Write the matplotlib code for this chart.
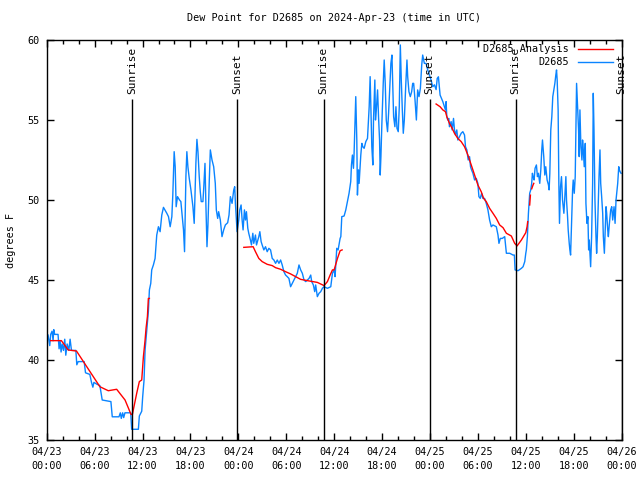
import matplotlib
matplotlib.use("Agg")
import matplotlib.pyplot as plt
import matplotlib.dates as mdates
import numpy as np
import pandas as pd

# hours after 2024-04-23 00:00 UTC
obs_hours = [
    0.17, 0.38, 0.5, 0.67, 0.8, 0.88, 1.0, 1.42, 1.55, 1.68, 1.8, 1.93, 2.1, 2.26, 2.39,
    2.56, 2.77, 2.93, 3.1, 3.65, 3.77, 3.94, 4.69, 4.86, 5.4, 5.61, 5.78, 5.91, 6.24, 6.66,
    6.95, 8.04, 8.21, 9.05, 9.22, 9.34, 9.51, 9.64, 9.8, 10.52, 10.64, 11.48, 11.6, 11.9,
    12.02, 12.19, 12.32, 12.53, 12.73, 12.86, 13.03, 13.15, 13.36, 13.57, 13.7, 13.78,
    13.99, 14.2, 14.41, 14.62, 15.04, 15.25, 15.46, 15.67, 15.79, 15.96, 16.09, 16.21,
    16.38, 16.63, 16.8, 17.01, 17.13, 17.26, 17.43, 17.55, 17.68, 17.85, 18.06, 18.31,
    18.47, 18.68, 18.81, 18.94, 19.1, 19.23, 19.35, 19.56, 19.65, 19.82, 19.94, 20.07,
    20.19, 20.36, 20.49, 20.7, 20.91, 21.11, 21.24, 21.41, 21.53, 21.74, 21.95, 22.16,
    22.37, 22.66, 22.83, 23.0, 23.21, 23.42, 23.54, 23.63, 23.75, 23.84, 24.05, 24.17,
    24.34, 24.47, 24.59, 24.76, 24.89, 25.01, 25.18, 25.3, 25.51, 25.64, 25.81, 25.93,
    26.14, 26.27, 26.44, 26.56, 26.69, 26.85, 26.98, 27.19, 27.4, 27.61, 27.82, 28.03,
    28.24, 28.45, 28.66, 28.87, 29.08, 29.29, 29.49, 29.7, 29.91, 30.12, 30.33, 30.54,
    30.75, 30.96, 31.17, 31.38, 31.59, 31.8, 32.01, 32.22, 32.43, 32.64, 32.85, 33.06,
    33.18, 33.39, 33.56, 33.68, 33.89, 34.1, 34.31, 34.52, 34.73, 35.15, 35.57, 35.78,
    35.99, 36.11, 36.32, 36.49, 36.74, 36.83, 36.95, 37.24, 37.45, 37.66, 37.86, 38.07,
    38.16, 38.28, 38.41, 38.49, 38.62, 38.7, 38.83, 38.91, 39.04, 39.12, 39.25, 39.33,
    39.46, 39.58, 39.75, 39.96, 40.17, 40.38, 40.5, 40.59, 40.71, 40.84, 40.92, 41.09,
    41.17, 41.3, 41.43, 41.55, 41.68, 41.76, 41.85, 41.97, 42.14, 42.26, 42.39, 42.52,
    42.68, 42.81, 42.93, 43.1, 43.23, 43.35, 43.44, 43.6, 43.73, 43.86, 44.02, 44.15,
    44.28, 44.4, 44.53, 44.65, 44.78, 44.95, 45.11, 45.2, 45.36, 45.53, 45.7, 45.83,
    45.95, 46.12, 46.29, 46.45, 46.62, 46.79, 46.96, 47.08, 47.29, 47.5, 47.71, 47.92,
    48.13, 48.34, 48.55, 48.76, 48.9, 49.05, 49.26, 49.6, 49.8, 49.93, 50.01, 50.1,
    50.22, 50.35, 50.43, 50.64, 50.77, 50.94, 51.06, 51.19, 51.35, 51.48, 51.69, 51.9,
    52.11, 52.32, 52.44, 52.61, 52.78, 52.95, 53.07, 53.2, 53.37, 53.58, 53.79, 53.99,
    54.12, 54.29, 54.46, 54.62, 54.83, 55.04, 55.25, 55.46, 55.67, 55.88, 56.3, 56.51,
    56.63, 56.8, 57.05, 57.35, 57.56, 57.98, 58.39, 58.56, 58.65, 59.02, 59.44, 59.65,
    59.86, 59.99, 60.06, 60.19, 60.32, 60.48, 60.61, 60.73, 60.82, 60.9, 61.03, 61.15,
    61.32, 61.45, 61.57, 61.74, 61.87, 61.99, 62.08, 62.24, 62.37, 62.49, 62.66, 62.83,
    62.91, 63.0, 63.12, 63.25, 63.37, 63.5, 63.63, 63.75, 63.84, 63.92, 64.04, 64.13,
    64.21, 64.34, 64.46, 64.59, 64.76, 64.88, 65.01, 65.09, 65.22, 65.3, 65.43, 65.51,
    65.6, 65.72, 65.85, 65.93, 66.06, 66.18, 66.27, 66.35, 66.47, 66.6, 66.68, 66.77,
    66.89, 67.02, 67.1, 67.19, 67.31, 67.44, 67.52, 67.65, 67.77, 67.86, 67.94, 68.03,
    68.11, 68.23, 68.36, 68.44, 68.53, 68.65, 68.78, 68.86, 68.95, 69.07, 69.16, 69.28,
    69.37, 69.49, 69.62, 69.7, 69.83, 69.95, 70.04, 70.12, 70.25, 70.33, 70.46, 70.62,
    70.75, 70.87, 70.96, 71.04, 71.17, 71.29, 71.38, 71.5, 71.63, 71.71, 71.8, 71.92,
]
obs_dewpt = [
    41.56, 40.9, 41.6, 41.8, 41.2, 41.9, 41.6, 41.6, 40.7, 41.2, 40.5, 41.0, 40.6, 41.3, 40.3,
    41.0, 40.6, 41.3, 40.6, 40.6, 39.7, 39.9, 39.9, 39.2, 39.1, 38.6, 38.3, 38.6, 38.5, 38.4,
    37.5, 37.4, 36.45, 36.45, 36.7, 36.35, 36.7, 36.4, 36.7, 36.7, 35.67, 35.67, 36.5, 36.8,
    37.71, 38.75, 40.63, 41.88, 43.02, 44.38, 44.79, 45.63, 45.94, 46.35, 47.29, 47.81,
    48.33, 48.02, 49.06, 49.54, 49.17, 48.96, 48.33, 48.96, 50.31, 53.02, 52.08, 49.58,
    50.21, 50.0, 49.9, 48.75, 48.13, 46.77, 51.46, 53.02, 52.08, 51.35, 50.63, 49.58,
    48.54, 52.29, 53.79, 53.02, 51.46, 50.52, 49.9, 49.9, 50.63, 52.29, 49.58, 47.08,
    48.44, 51.25, 53.13, 52.5, 52.08, 51.04, 49.38, 48.85, 49.27, 48.75, 47.71, 48.13,
    48.44, 48.58, 49.06, 50.21, 49.79, 50.63, 50.83, 49.79, 48.75, 48.02, 48.75, 49.38,
    49.69, 48.75, 48.13, 49.38, 48.75, 49.27, 48.23, 47.92, 47.5, 47.19, 47.92, 47.29,
    47.81, 47.19, 47.5, 47.71, 48.02, 47.4, 47.19, 46.88, 47.08, 46.77, 46.98, 46.88,
    46.35, 46.25, 46.04, 46.25, 46.04, 46.25, 45.94, 45.52, 45.31, 45.21, 45.1, 44.58,
    44.79, 45.0, 45.21, 45.42, 45.94, 45.63, 45.42, 45.0, 44.9, 45.0, 45.1, 45.31,
    44.9, 44.69, 44.27, 44.69, 43.96, 44.17, 44.27, 44.48, 44.58, 44.48, 44.58, 45.42,
    45.63, 45.21, 46.98, 46.88, 47.6, 47.71, 48.96, 49.0, 49.38, 49.9, 50.42, 51.15,
    52.19, 52.81, 51.98, 52.92, 55.21, 56.46, 53.75, 50.31, 51.88, 51.04, 52.08, 52.81,
    53.54, 53.33, 53.23, 53.65, 53.85, 55.83, 57.71, 55.83, 53.33, 52.19, 55.0, 57.5,
    55.0, 55.83, 56.88, 55.21, 53.75, 51.56, 52.71, 54.79, 57.29, 58.75, 57.29, 55.0,
    54.27, 55.42, 56.67, 58.54, 59.06, 56.88, 55.21, 54.58, 55.83, 54.48, 54.27, 55.83,
    59.69, 57.5, 55.63, 54.17, 55.0, 57.08, 58.75, 57.71, 56.77, 56.46, 56.77, 57.29,
    57.29, 56.25, 55.0, 56.88, 56.46, 56.98, 58.44, 59.06, 58.54, 58.54, 58.13, 57.81,
    57.5, 57.08, 57.2, 56.9, 57.6, 57.7, 56.56, 56.15, 55.83, 55.63, 56.15, 55.21,
    55.0, 55.1, 54.58, 54.9, 54.38, 55.1, 54.38, 54.06, 54.38, 53.75, 53.96, 54.17,
    54.27, 54.06, 53.33, 53.13, 52.5, 52.71, 52.08, 51.88, 51.67, 51.25, 51.35, 51.04,
    50.21, 50.1, 50.42, 50.1, 50.1, 49.79, 49.38, 48.75, 48.33, 48.44, 48.33, 47.81,
    47.29, 47.6, 47.6, 47.71, 46.67, 46.67, 46.56, 46.56, 45.63, 45.58, 45.73, 45.83,
    46.15, 46.67, 46.88, 47.71, 49.17, 50.42, 50.63, 51.04, 51.67, 51.46, 51.25, 51.98,
    52.19, 51.46, 51.67, 51.04, 51.88, 53.13, 53.75, 52.71, 51.56, 52.08, 51.25, 50.94,
    50.63, 51.67, 54.38, 55.21, 56.46, 56.88, 57.29, 57.81, 58.13, 57.5, 55.63, 51.04,
    48.54, 50.83, 51.46, 50.0, 49.17, 50.21, 51.46, 50.0, 48.96, 48.13, 47.29, 46.88,
    46.56, 48.54, 50.63, 51.25, 50.42, 51.46, 54.58, 57.29, 55.83, 54.38, 52.71, 55.63,
    53.33, 52.5, 53.75, 53.13, 52.08, 53.54, 49.79, 48.54, 48.96, 46.88, 47.5, 46.67,
    45.83, 47.71, 51.04, 56.67, 54.38, 50.0, 47.71, 46.67, 47.71, 49.79, 51.46, 53.13,
    51.04, 50.21, 49.17, 47.71, 46.67, 48.33, 49.58, 49.17, 48.13, 47.71, 48.54, 49.38,
    49.58, 48.75, 49.17, 49.58, 48.54, 50.0, 50.42, 51.04, 52.08, 51.88, 51.77, 51.67,
]

# analysis series, None marks a gap
ana_hours = [
    0.5, 1.84, 2.68, 3.73, 6.66, 7.71, 8.76, 9.81, 10.56, 10.73, 11.27, 11.6, 11.9, 12.11,
    12.32, 12.44, 12.61, 12.73, 12.86, 12.9,
    24.68, 25.85, 26.14, 26.56, 26.98, 27.61, 28.24, 28.66, 29.29, 29.91, 30.54, 31.17,
    31.8, 32.64, 33.89, 34.73, 35.15, 35.49, 35.78, 35.99, 36.41, 36.74, 36.99, 37.0,
    48.76, 49.26, 49.6, 49.93, 50.1, 50.43, 50.77, 51.06, 51.48, 51.9, 52.32, 52.74,
    53.16, 53.58, 53.99, 54.41, 54.71, 55.04, 55.46, 55.88, 56.3, 56.72, 57.14, 57.56,
    58.18, 58.6, 58.9, 59.44, 59.99, 60.15, 60.23, 60.3,
    60.48, 60.57, 60.6, 60.73, 60.9, 60.99,
]
ana_dewpt = [
    41.21, 41.21, 40.63, 40.56, 38.33, 38.08, 38.17, 37.5, 36.6, 36.6, 37.92, 38.65, 38.75,
    40.21, 41.25, 41.98, 42.71, 43.85, 43.85, None,
    47.04, 47.08, 46.77, 46.35, 46.15, 45.98, 45.9, 45.77, 45.67, 45.52, 45.38, 45.21,
    45.04, 44.96, 44.85, 44.65, 44.9, 45.31, 45.63, 45.63, 46.35, 46.83, 46.88, None,
    56.0, 55.83, 55.63, 55.52, 55.21, 54.79, 54.48, 54.17, 53.85, 53.65, 53.33, 52.81,
    52.19, 51.56, 50.94, 50.52, 50.1, 49.9, 49.48, 49.17, 48.85, 48.44, 48.27, 47.92,
    47.75, 47.29, 47.13, 47.5, 47.96, 48.33, 48.65, None,
    49.69, 50.3, None, 50.7, 50.94, 51.04,
]

event_hours = [10.73, 23.88, 34.67, 47.95, 58.72, 72.0]
event_labels = ["Sunrise", "Sunset", "Sunrise", "Sunset", "Sunrise", "Sunset"]

start = pd.Timestamp("2024-04-23 00:00")


def to_time(hours):
    return start + pd.to_timedelta(hours, unit="h")


mono = "DejaVu Sans Mono"
fs = 7.3

fig = plt.figure(figsize=(6.4, 4.8), dpi=100)
ax = fig.add_axes([46.7 / 640, 40 / 480, 575 / 640, 400 / 480])

ana_y = np.array([np.nan if v is None else v for v in ana_dewpt])
ax.plot(to_time(ana_hours), ana_y, color="#ff0000", lw=1.0, label="D2685 Analysis", zorder=3)
ax.plot(to_time(obs_hours), obs_dewpt, color="#0a84ff", lw=1.0, label="D2685", zorder=2)

# sunrise / sunset markers
ax.vlines(to_time(event_hours), 35, 56.3, color="black", lw=1.0, zorder=4)
for h, lab in zip(event_hours, event_labels):
    ax.text(to_time(h), 56.6, lab, rotation=90, ha="center", va="bottom",
            family=mono, fontsize=8, clip_on=False, zorder=5)

ax.set_xlim(start, start + pd.Timedelta(hours=72))
ax.set_ylim(35, 60)
ax.set_yticks([35, 40, 45, 50, 55, 60])
ax.xaxis.set_major_locator(mdates.HourLocator(byhour=[0, 6, 12, 18]))
ax.xaxis.set_minor_locator(mdates.HourLocator(byhour=range(0, 24, 2)))
ax.xaxis.set_major_formatter(mdates.DateFormatter("%m/%d\n%H:%M"))

ax.tick_params(which="both", direction="in", top=True, right=True, width=1.0,
               labelsize=fs, pad=5)
ax.tick_params(which="major", length=5)
ax.tick_params(which="minor", length=3)
for lbl in ax.get_xticklabels() + ax.get_yticklabels():
    lbl.set_family(mono)
for lbl in ax.get_xticklabels():
    lbl.set_linespacing(1.45)
for sp in ax.spines.values():
    sp.set_linewidth(1.0)

ax.set_ylabel("degrees F", family=mono, fontsize=fs, labelpad=8)
ax.set_title("Dew Point for D2685 on 2024-Apr-23 (time in UTC)", family=mono,
             fontsize=fs, pad=14)

ax.legend(loc="upper right", bbox_to_anchor=(0.995, 1.005), frameon=False,
          markerfirst=False, handlelength=3.4, handletextpad=0.9, labelspacing=0.3,
          prop={"family": mono, "size": fs}, borderaxespad=0.2)

fig.savefig("out.png", dpi=100)
